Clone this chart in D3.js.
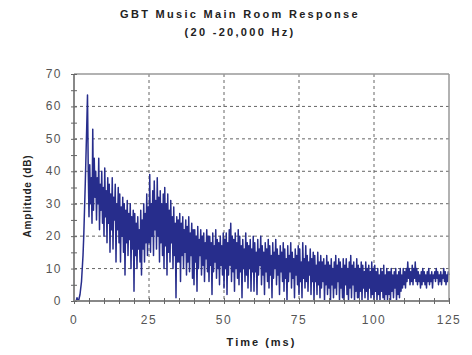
<!DOCTYPE html>
<html>
<head>
<meta charset="utf-8">
<script src="https://cdn.jsdelivr.net/npm/d3@7"></script>
<style>
  body { margin: 0; background: #fff; }
  svg { display: block; }
</style>
</head>
<body>
<div id="chart"></div>
<script>
const sampleStep = 0.25;
const amplitude = [
  0, 0, 0, 0, 1, 0, 0, 1, 2, 4, 6, 10, 14, 20, 28, 36, 45, 54, 63.5, 40,
  26, 42, 30, 38, 24, 53, 28, 44, 32, 40, 25, 38, 30, 44, 22, 36, 28, 40, 24, 35,
  20, 41, 26, 34, 18, 38, 24, 36, 15, 33, 22, 38, 16, 32, 25, 36, 12, 30, 22, 35,
  18, 33, 12, 29, 20, 32, 15, 30, 8, 28, 18, 31, 14, 27, 19, 30, 10, 26, 16, 28,
  3, 27, 14, 24, 10, 26, 16, 22, 12, 28, 8, 25, 16, 30, 12, 27, 18, 33, 14, 29,
  18, 39, 15, 30, 20, 34, 14, 37, 22, 31, 16, 38, 20, 32, 12, 34, 18, 30, 14, 33,
  10, 35, 17, 30, 8, 33, 15, 28, 12, 31, 18, 26, 10, 29, 14, 24, 1, 26, 12, 25,
  12, 27, 6, 24, 14, 26, 10, 22, 15, 25, 8, 23, 12, 26, 9, 21, 14, 24, 7, 22,
  5, 22, 12, 20, 3, 23, 10, 19, 14, 22, 8, 20, 11, 21, 6, 18, 13, 22, 9, 20,
  6, 20, 11, 18, 2, 21, 9, 17, 12, 22, 7, 19, 10, 18, 5, 20, 11, 17, 8, 21,
  4, 19, 10, 21, 2, 18, 8, 22, 11, 24, 6, 20, 9, 19, 3, 21, 10, 18, 7, 22,
  5, 20, 9, 17, 1, 19, 10, 16, 6, 21, 8, 18, 4, 17, 10, 19, 3, 16, 9, 20,
  3, 18, 9, 15, 2, 19, 8, 16, 11, 20, 5, 17, 8, 15, 2, 18, 9, 16, 6, 19,
  4, 17, 8, 14, 1, 18, 7, 15, 10, 19, 5, 16, 8, 14, 2, 17, 9, 15, 6, 18,
  3, 16, 7, 13, 0, 17, 6, 14, 9, 18, 4, 15, 7, 13, 1, 16, 8, 14, 5, 17,
  2, 16, 6, 12, 1, 18, 7, 13, 4, 17, 6, 14, 3, 12, 8, 16, 2, 13, 6, 15,
  0, 14, 6, 11, 2, 15, 5, 12, 1, 14, 4, 12, 6, 13, 0, 11, 5, 14, 2, 12,
  4, 11, 0, 13, 5, 10, 1, 12, 4, 14, 2, 11, 6, 13, 0, 12, 4, 10, 1, 13,
  0, 11, 5, 13, 2, 10, 0, 12, 4, 14, 1, 11, 5, 12, 0, 10, 3, 13, 1, 11,
  1, 10, 3, 12, 0, 11, 4, 9, 1, 12, 3, 10, 0, 11, 4, 9, 1, 12, 2, 10,
  0, 11, 3, 9, 0, 10, 2, 8, 0, 10, 3, 9, 1, 11, 0, 8, 2, 10, 0, 9,
  2, 9, 0, 10, 3, 8, 1, 9, 4, 10, 0, 8, 2, 9, 1, 10, 3, 8, 4, 10,
  5, 9, 4, 10, 6, 12, 7, 10, 5, 9, 6, 11, 5, 10, 7, 12, 6, 10, 5, 9,
  6, 8, 4, 9, 5, 10, 6, 9, 5, 8, 4, 9, 6, 10, 5, 8, 6, 9, 4, 8,
  7, 9, 6, 10, 7, 9, 5, 8, 6, 9, 5, 8, 7, 10, 6, 9, 5, 8, 6, 9,
  8
];
const titleLines = ["GBT Music Main Room Response", "(20 -20,000 Hz)"];
const xTicks = [0, 25, 50, 75, 100, 125];
const yTicks = [0, 10, 20, 30, 40, 50, 60, 70];
const xLabel = "Time (ms)";
const yLabel = "Amplitude (dB)";

const W = 472, H = 355;
const margin = { top: 74, right: 23, bottom: 54, left: 74 };
const width = W - margin.left - margin.right;
const height = H - margin.top - margin.bottom;

const svg = d3.select("#chart").append("svg")
  .attr("width", W)
  .attr("height", H)
  .style("font-family", "'Liberation Sans', Arial, sans-serif");

// title
svg.selectAll("text.title")
  .data(titleLines)
  .enter().append("text")
  .attr("class", "title")
  .attr("x", 240)
  .attr("y", (d, i) => 18 + i * 18)
  .attr("text-anchor", "middle")
  .style("font-size", "11px")
  .style("font-weight", "bold")
  .style("letter-spacing", "2.3px")
  .style("fill", "#222")
  .text(d => d);

const g = svg.append("g")
  .attr("transform", "translate(" + margin.left + "," + margin.top + ")");

const x = d3.scaleLinear().domain([0, 125]).range([0, width]);
const y = d3.scaleLinear().domain([0, 70]).range([height, 0]);

// dashed grid
g.append("g").selectAll("line")
  .data(xTicks.slice(1, -1))
  .enter().append("line")
  .attr("x1", d => x(d)).attr("x2", d => x(d))
  .attr("y1", 0).attr("y2", height)
  .attr("stroke", "#666").attr("stroke-width", 1)
  .attr("stroke-dasharray", "3,3");

g.append("g").selectAll("line")
  .data(yTicks.slice(1, -1))
  .enter().append("line")
  .attr("x1", 0).attr("x2", width)
  .attr("y1", d => y(d)).attr("y2", d => y(d))
  .attr("stroke", "#666").attr("stroke-width", 1)
  .attr("stroke-dasharray", "3,3");

// the response trace
const line = d3.line()
  .x((d, i) => x(i * sampleStep))
  .y(d => y(d));

g.append("path")
  .datum(amplitude)
  .attr("fill", "none")
  .attr("stroke", "#272d8c")
  .attr("stroke-width", 1.5)
  .attr("stroke-linejoin", "round")
  .attr("d", line);

// frame: top and right
g.append("line")
  .attr("x1", 0).attr("x2", width).attr("y1", 0).attr("y2", 0)
  .attr("stroke", "#999").attr("stroke-width", 1.5);
g.append("line")
  .attr("x1", width).attr("x2", width).attr("y1", 0).attr("y2", height)
  .attr("stroke", "#999").attr("stroke-width", 1.5);

// minor ticks every 5 units, crossing the axis lines
const xMinor = d3.range(0, 126, 5);
const yMinor = d3.range(0, 71, 5);

const xAxis = g.append("g").attr("transform", "translate(0," + height + ")")
  .call(d3.axisBottom(x).tickValues(xMinor).tickSize(3).tickFormat(""));
xAxis.selectAll("line").attr("y1", -3).attr("stroke", "#666");
xAxis.select(".domain").attr("stroke", "#888").attr("stroke-width", 2)
  .attr("d", "M0,0H" + width);

const yAxis = g.append("g")
  .call(d3.axisLeft(y).tickValues(yMinor).tickSize(3).tickFormat(""));
yAxis.selectAll("line").attr("x1", 3).attr("stroke", "#666");
yAxis.select(".domain").attr("stroke", "#888").attr("stroke-width", 2)
  .attr("d", "M0," + height + "V0");

// tick labels
g.append("g").selectAll("text")
  .data(xTicks)
  .enter().append("text")
  .attr("x", d => x(d))
  .attr("y", height + 23)
  .attr("text-anchor", "middle")
  .style("font-size", "12px")
  .style("letter-spacing", "1.5px")
  .style("fill", "#555")
  .text(d => d);

g.append("g").selectAll("text")
  .data(yTicks)
  .enter().append("text")
  .attr("x", -12)
  .attr("y", d => y(d) + 4)
  .attr("text-anchor", "end")
  .style("font-size", "12px")
  .style("letter-spacing", "1.5px")
  .style("fill", "#555")
  .text(d => d);

// axis titles
svg.append("text")
  .attr("x", margin.left + width / 2)
  .attr("y", 346)
  .attr("text-anchor", "middle")
  .style("font-size", "11px")
  .style("font-weight", "bold")
  .style("letter-spacing", "2px")
  .style("fill", "#222")
  .text(xLabel);

svg.append("text")
  .attr("transform", "translate(31,196) rotate(-90)")
  .attr("text-anchor", "middle")
  .style("font-size", "10px")
  .style("font-weight", "bold")
  .style("letter-spacing", "0.8px")
  .style("fill", "#222")
  .text(yLabel);
</script>
</body>
</html>
